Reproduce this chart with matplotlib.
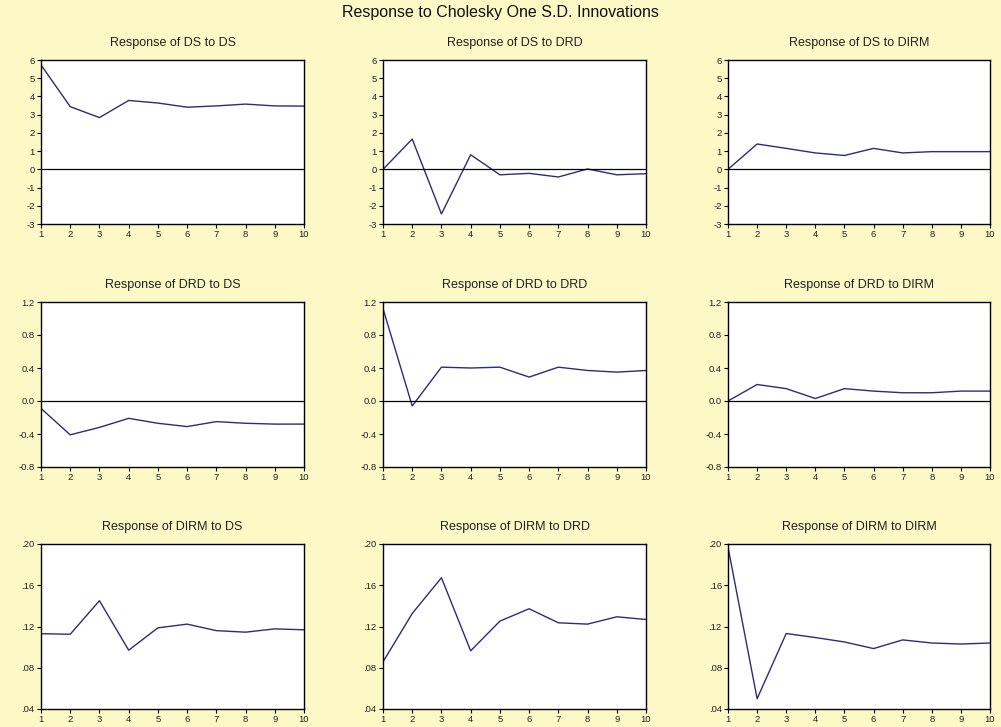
import numpy as np
import matplotlib.pyplot as plt

plt.rcParams['font.family'] = ['Liberation Sans', 'DejaVu Sans']

# horizon (periods)
periods = np.arange(1, 11)

# responses, row = response variable, col = shock
ds_to_ds = [5.73, 3.44, 2.84, 3.78, 3.64, 3.41, 3.48, 3.58, 3.48, 3.47]
ds_to_drd = [0.0, 1.66, -2.45, 0.80, -0.30, -0.22, -0.42, 0.02, -0.30, -0.24]
ds_to_dirm = [0.0, 1.39, 1.15, 0.90, 0.76, 1.15, 0.90, 0.97, 0.97, 0.97]

drd_to_ds = [-0.09, -0.41, -0.32, -0.21, -0.27, -0.31, -0.25, -0.27, -0.28, -0.28]
drd_to_drd = [1.12, -0.06, 0.41, 0.40, 0.41, 0.29, 0.41, 0.37, 0.35, 0.37]
drd_to_dirm = [0.0, 0.20, 0.15, 0.03, 0.15, 0.12, 0.10, 0.10, 0.12, 0.12]

dirm_to_ds = [0.113, 0.1125, 0.145, 0.097, 0.1187, 0.1223, 0.116, 0.1145, 0.1177, 0.1168]
dirm_to_drd = [0.0857, 0.1326, 0.1673, 0.0964, 0.1252, 0.1372, 0.1236, 0.1223, 0.1294, 0.1268]
dirm_to_dirm = [0.197, 0.050, 0.1132, 0.1093, 0.105, 0.0986, 0.107, 0.104, 0.103, 0.104]

variables = ['DS', 'DRD', 'DIRM']
responses = [
    [ds_to_ds, ds_to_drd, ds_to_dirm],
    [drd_to_ds, drd_to_drd, drd_to_dirm],
    [dirm_to_ds, dirm_to_drd, dirm_to_dirm],
]

# y scale of each row
row_ylims = [(-3, 6), (-0.8, 1.2), (0.04, 0.20)]
row_yticks = [
    [-3, -2, -1, 0, 1, 2, 3, 4, 5, 6],
    [-0.8, -0.4, 0.0, 0.4, 0.8, 1.2],
    [0.04, 0.08, 0.12, 0.16, 0.20],
]
row_ylabels = [
    ['-3', '-2', '-1', '0', '1', '2', '3', '4', '5', '6'],
    ['-0.8', '-0.4', '0.0', '0.4', '0.8', '1.2'],
    ['.04', '.08', '.12', '.16', '.20'],
]

W, H = 1001, 727
bg = '#fdf9c6'
line_color = '#2c2c7c'

# axes boxes in pixels (left, right) per column, (top, bottom) per row
col_px = [(41, 304), (383, 646), (728, 990)]
row_px = [(60, 224), (302, 467), (544, 709)]

fig = plt.figure(figsize=(W / 100, H / 100), dpi=100, facecolor=bg)
fig.text(0.5, 1 - 13 / H, 'Response to Cholesky One S.D. Innovations',
         ha='center', va='center', fontsize=11.5, color='#111111')

for r in range(3):
    for c in range(3):
        x0, x1 = col_px[c]
        y0, y1 = row_px[r]
        ax = fig.add_axes([x0 / W, 1 - y1 / H, (x1 - x0) / W, (y1 - y0) / H])
        ax.set_facecolor('white')
        ax.plot(periods, responses[r][c], color=line_color, linewidth=1.0)
        lo, hi = row_ylims[r]
        if lo < 0 < hi:
            ax.axhline(0, color='black', linewidth=0.9)
        ax.set_xlim(1, 10)
        ax.set_ylim(lo, hi)
        ax.set_xticks(periods)
        ax.set_yticks(row_yticks[r])
        ax.set_yticklabels(row_ylabels[r])
        ax.tick_params(direction='out', length=3, width=0.8, labelsize=6.8,
                       pad=1.5, labelcolor='#222222')
        for s in ax.spines.values():
            s.set_linewidth(1.0)
            s.set_color('black')
        ax.set_title(f'Response of {variables[r]} to {variables[c]}',
                     fontsize=9, pad=10, color='#222222')

fig.savefig('out.png', dpi=100, facecolor=bg)
plt.close()
